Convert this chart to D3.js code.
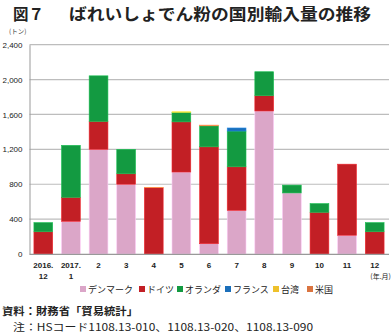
<!DOCTYPE html>
<html><head><meta charset="utf-8">
<script src="https://cdn.jsdelivr.net/npm/d3@7"></script>
<style>body{margin:0;background:#fff}svg{display:block}</style>
</head><body>
<svg id="c" width="392" height="334"></svg>
<script>
const categories = [["2016.","12"],["2017.","1"],["2"],["3"],["4"],["5"],["6"],["7"],["8"],["9"],["10"],["11"],["12"]];
const seriesNames = ["デンマーク","ドイツ","オランダ","フランス","台湾","米国"];
const denmark     = [0,375,1200,800,0,940,118,500,1640,700,0,215,0];
const germany     = [255,275,320,120,760,575,1111,500,175,0,478,815,255];
const netherlands = [105,596,523,280,0,110,241,410,275,90,100,0,105];
const france      = [0,0,0,0,0,0,0,35,0,0,0,0,0];
const taiwan      = [0,0,0,0,0,6,0,0,0,0,0,0,0];
const usa         = [0,0,0,0,4,0,8,0,0,0,0,0,0];
const yTicks = [0,400,800,1200,1600,2000,2400];
const colors = ["#dba6c8","#c21f25","#139a41","#1b6fba","#eec12b","#da7440"];

const svg = d3.select("#c");
const jp = "'Noto Sans CJK JP', sans-serif";
const num = "'Liberation Sans', Arial, sans-serif";

const rows = categories.map((c,i)=>({i, s0:denmark[i], s1:germany[i], s2:netherlands[i], s3:france[i], s4:taiwan[i], s5:usa[i]}));
const keys = ["s0","s1","s2","s3","s4","s5"];
const stack = d3.stack().keys(keys)(rows);

const x = d3.scaleBand().domain(d3.range(categories.length)).range([29.5,388.5]).paddingInner(0.32).paddingOuter(0.16);
const y = d3.scaleLinear().domain([0,2400]).range([254,44.7]);

// title
svg.append("text").attr("x",13).attr("y",19.5).attr("font-family",jp).attr("font-weight","bold").attr("font-size",16).attr("fill","#222")
  .attr("textLength",31).attr("lengthAdjust","spacingAndGlyphs").text("図７");
svg.append("text").attr("x",69).attr("y",19.5).attr("font-family",jp).attr("font-weight","bold").attr("font-size",16).attr("fill","#222")
  .attr("textLength",302).attr("lengthAdjust","spacingAndGlyphs").text("ばれいしょでん粉の国別輸入量の推移");
svg.append("text").attr("x",9).attr("y",34).attr("font-family",jp).attr("font-size",6.5).attr("fill","#333").text("(トン)");

// grid
svg.append("g").selectAll("line").data(yTicks.filter(d=>d>0)).join("line")
  .attr("x1",29.5).attr("x2",389).attr("y1",d=>y(d)).attr("y2",d=>y(d))
  .attr("stroke","#bdbdbd").attr("stroke-width",1.2);

// y axis
const ya = svg.append("g").attr("transform","translate(29.5,0)").call(d3.axisLeft(y).tickValues(yTicks).tickSize(0).tickPadding(7).tickFormat(d3.format(",")));
ya.select(".domain").attr("stroke","#999");
ya.selectAll("text").attr("font-family",num).attr("font-size",8).attr("fill","#222");

// bars
svg.append("g").selectAll("g").data(stack).join("g").attr("fill",(d,i)=>colors[i])
  .attr("stroke",(d,i)=>d3.color(colors[i]).brighter(0.6)).attr("stroke-width",0.6)
  .selectAll("rect").data(d=>d.filter(v=>v[1]-v[0]>0)).join("rect")
  .attr("x",d=>x(d.data.i)).attr("width",x.bandwidth())
  .attr("y",d=>y(d[1])).attr("height",d=>y(d[0])-y(d[1]));

// x axis
svg.append("line").attr("x1",29.5).attr("x2",389).attr("y1",254.3).attr("y2",254.3).attr("stroke","#999").attr("stroke-width",1.2);
const xl = svg.append("g").selectAll("text").data(categories).join("text")
  .attr("text-anchor","middle").attr("font-family",num).attr("font-weight","bold").attr("font-size",8).attr("fill","#222")
  .attr("transform",(d,i)=>`translate(${x(i)+x.bandwidth()/2},0)`);
xl.selectAll("tspan").data(d=>d).join("tspan").attr("x",0).attr("y",(d,j)=>268+j*10.5).text(d=>d);
svg.append("text").attr("x",391).attr("y",279).attr("text-anchor","end").attr("font-family",jp).attr("font-size",7).attr("fill","#222").text("(年.月)");

// legend
const legendX = [80,139,177,225,273,307];
seriesNames.forEach((n,i)=>{
  const g = svg.append("g").attr("transform",`translate(${legendX[i]},0)`);
  g.append("rect").attr("x",0).attr("y",286).attr("width",6).attr("height",6).attr("fill",colors[i]);
  g.append("text").attr("x",8).attr("y",292.8).attr("font-family",jp).attr("font-size",9).attr("fill","#222").text(n);
});

// footer
svg.append("text").attr("x",2).attr("y",315).attr("font-family",jp).attr("font-weight","bold").attr("font-size",10.5).attr("fill","#222")
  .attr("textLength",136).attr("lengthAdjust","spacingAndGlyphs").text("資料：財務省「貿易統計」");
svg.append("text").attr("x",13).attr("y",331).attr("font-family",jp).attr("font-size",10.5).attr("fill","#222")
  .attr("textLength",300).attr("lengthAdjust","spacingAndGlyphs").text("注：HSコード1108.13-010、1108.13-020、1108.13-090");
</script>
</body></html>
